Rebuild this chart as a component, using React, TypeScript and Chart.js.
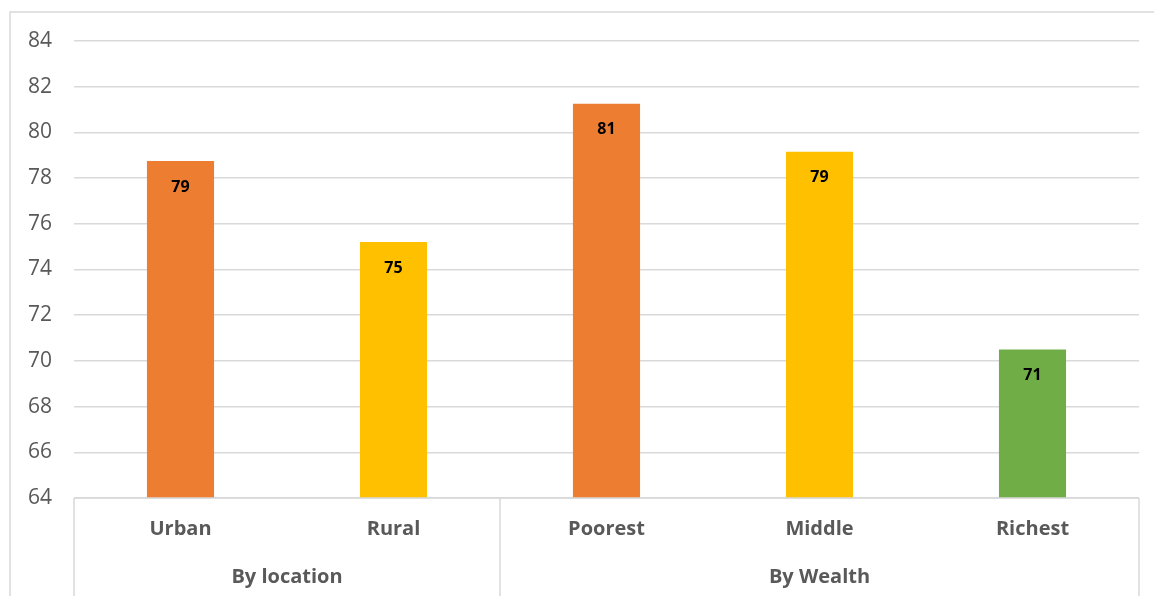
import React, { useEffect, useRef } from "react";
import { Chart, registerables } from "chart.js";

Chart.register(...registerables);

const categories = ["Urban", "Rural", "Poorest", "Middle", "Richest"];
const values = [78.75, 75.2, 81.25, 79.15, 70.5];
const barColors = ["#ED7D31", "#FFC000", "#ED7D31", "#FFC000", "#70AD47"];
const groupNames = ["By location", "By Wealth"];
const groupSizes = [2, 3];
const yTicks = [64, 66, 68, 70, 72, 74, 76, 78, 80, 82, 84];

const FONT = "'Open Sans', 'DejaVu Sans', sans-serif";
const LINE = "#d9d9d9";

const decorPlugin = {
  id: "decor",
  beforeDraw(chart: any) {
    const ctx = chart.ctx;
    ctx.save();
    ctx.strokeStyle = LINE;
    ctx.lineWidth = 1.5;
    ctx.beginPath();
    ctx.moveTo(10, chart.height);
    ctx.lineTo(10, 12);
    ctx.lineTo(chart.width, 12);
    ctx.stroke();
    ctx.restore();
  },
  afterDraw(chart: any) {
    const ctx = chart.ctx;
    const x = chart.scales.x;
    const area = chart.chartArea;
    const n = categories.length;
    const step = (area.right - area.left) / n;
    ctx.save();
    ctx.strokeStyle = LINE;
    ctx.lineWidth = 1.5;
    // bottom axis line
    ctx.beginPath();
    ctx.moveTo(area.left, area.bottom);
    ctx.lineTo(area.right, area.bottom);
    ctx.stroke();
    // group separators and labels
    let idx = 0;
    const bounds: number[] = [area.left];
    groupSizes.forEach((s) => {
      idx += s;
      bounds.push(x.getPixelForValue(idx - 1) + step / 2);
    });
    bounds.forEach((b) => {
      ctx.beginPath();
      ctx.moveTo(b, area.bottom);
      ctx.lineTo(b, chart.height);
      ctx.stroke();
    });
    ctx.fillStyle = "#595959";
    ctx.font = `bold 20px ${FONT}`;
    ctx.textAlign = "center";
    ctx.textBaseline = "middle";
    groupNames.forEach((g, i) => {
      ctx.fillText(g, (bounds[i] + bounds[i + 1]) / 2, 577);
    });
    // data labels
    const meta = chart.getDatasetMeta(0);
    ctx.fillStyle = "#000000";
    ctx.font = `bold 16px ${FONT}`;
    meta.data.forEach((bar: any, i: number) => {
      ctx.fillText(String(Math.round(values[i])), bar.x, bar.y + 26);
    });
    ctx.restore();
  },
};

export default function App() {
  const ref = useRef<HTMLCanvasElement>(null);
  useEffect(() => {
    if (!ref.current) return;
    const chart = new Chart(ref.current, {
      type: "bar",
      data: {
        labels: categories,
        datasets: [
          {
            data: values,
            backgroundColor: barColors,
            categoryPercentage: 1,
            barPercentage: 0.315,
          },
        ],
      },
      options: {
        animation: false,
        responsive: true,
        maintainAspectRatio: false,
        layout: { padding: { top: 41, right: 15, left: 0, bottom: 0 } },
        plugins: { legend: { display: false }, tooltip: { enabled: false } },
        scales: {
          x: {
            grid: { display: false, drawTicks: false },
            border: { display: false },
            ticks: {
              color: "#595959",
              font: { family: FONT, size: 20, weight: "bold" },
              padding: 19,
              maxRotation: 0,
            },
            afterFit(scale: any) {
              scale.height = 98;
            },
          },
          y: {
            min: 64,
            max: 84,
            afterBuildTicks(scale: any) {
              scale.ticks = yTicks.map((v) => ({ value: v }));
            },
            grid: { color: LINE, lineWidth: 1.5, drawTicks: false },
            border: { display: false },
            ticks: {
              color: "#595959",
              font: { family: FONT, size: 21 },
              padding: 22,
            },
            afterFit(scale: any) {
              scale.width = 74;
            },
          },
        },
      },
      plugins: [decorPlugin],
    });
    return () => chart.destroy();
  }, []);
  return (
    <div style={{ position: "fixed", left: 0, top: 0, width: 1154, height: 596, background: "#fff" }}>
      <canvas ref={ref} />
    </div>
  );
}
